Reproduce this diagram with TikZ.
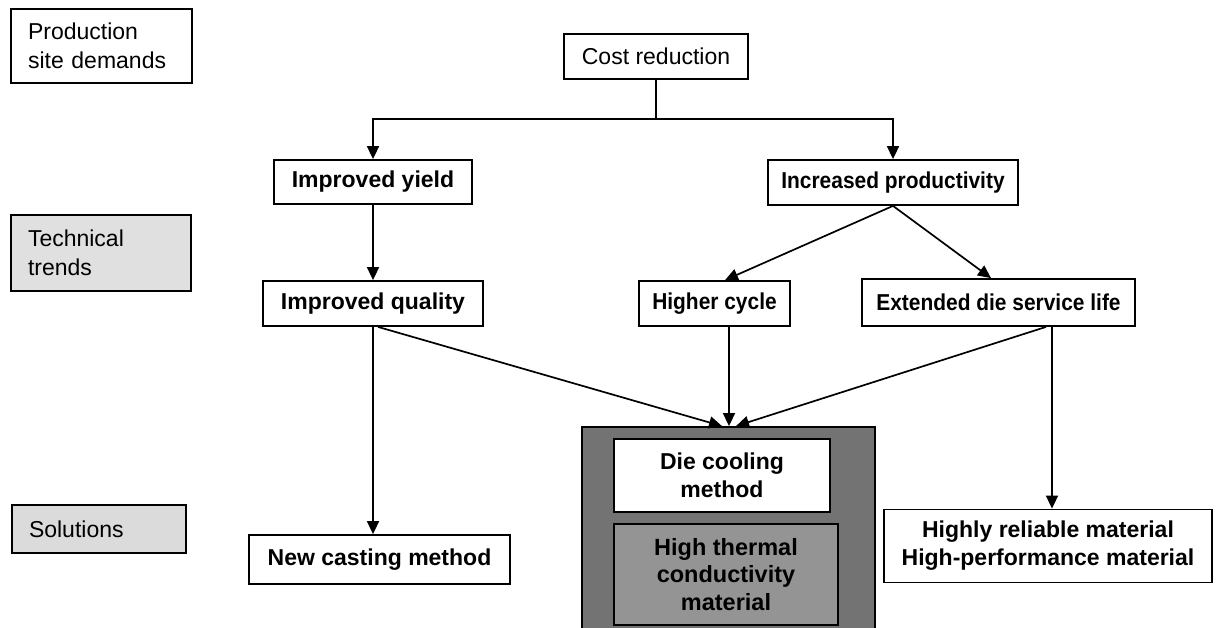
\documentclass[tikz,border=0pt]{standalone}
\usepackage{fontspec}
\setmainfont{Liberation Sans}
\newfontfamily\narrowsans[FakeStretch=0.91]{Liberation Sans}
\usetikzlibrary{arrows.meta}
\begin{document}
\begin{tikzpicture}[x=1pt,y=-1pt,
  bx/.style={draw, line width=1.8pt, inner sep=0pt, align=center, font=\fontsize{23}{28}\selectfont\bfseries, fill=white},
  nbx/.style={bx, font=\narrowsans\fontsize{23}{28}\selectfont\bfseries},
  lbl/.style={draw, line width=1.8pt, inner xsep=17pt, inner ysep=0pt, align=left, font=\fontsize{23}{29}\selectfont},
  arr/.style={line width=1.7pt, -{Triangle[length=13pt,width=12pt]}},
  ln/.style={line width=1.7pt}]
\useasboundingbox (0,0) rectangle (1216,628);
% left labels
\node[lbl, fill=white, minimum width=181pt, minimum height=74pt, text width=147pt] (prod) at (101.5,46) {Production\\site demands};
\node[lbl, fill=black!12, minimum width=180pt, minimum height=76pt, text width=146pt] (tech) at (101,253) {Technical\\trends};
\node[lbl, fill=black!14, minimum width=174pt, minimum height=48pt, text width=140pt] (sol) at (99,529) {Solutions};
% main nodes
\node[bx, font=\fontsize{23}{28}\selectfont, minimum width=184pt, minimum height=45pt] (cost) at (656,56.5) {Cost reduction};
\node[bx, minimum width=198pt, minimum height=44pt] (yield) at (373,182) {Improved yield};
\node[nbx, minimum width=250pt, minimum height=45pt] (prodv) at (893,182.5) {Increased productivity};
\node[bx, minimum width=220pt, minimum height=45pt] (quality) at (373,303.5) {Improved quality};
\node[nbx, minimum width=151pt, minimum height=45pt] (cycle) at (714.5,303.5) {Higher cycle};
\node[nbx, minimum width=273pt, minimum height=47pt] (ext) at (998.5,302.5) {Extended die service life};
\node[bx, minimum width=261pt, minimum height=49pt] (casting) at (379.5,559.5) {New casting method};
\node[bx, minimum width=328pt, minimum height=73pt] (highly) at (1048,546) {Highly reliable material\\High-performance material};
\node[draw, line width=1.8pt, fill=black!55, inner sep=0pt, minimum width=293pt, minimum height=213pt] (big) at (728.5,533.5) {};
\node[bx, minimum width=216pt, minimum height=73pt] (cool) at (722,475.5) {Die cooling\\method};
\node[bx, fill=black!42, font=\fontsize{23.5}{27.5}\selectfont\bfseries, minimum width=224pt, minimum height=101pt] (thermal) at (726,574.5) {High thermal\\conductivity\\material};
% connectors
\coordinate (split) at (cost.south |- 0,119);
\draw[ln] (cost.south) -- (split);
\draw[arr] (split) -| (yield.north);
\draw[arr] (split) -| (prodv.north);
\draw[arr] (yield.south) -- (quality.north);
\draw[arr] (prodv.south) -- ([xshift=10.5pt]cycle.north);
\draw[arr] (prodv.south) -- ([xshift=-7.5pt]ext.north);
\draw[arr] (quality.south) -- (quality.south |- casting.north);
\draw[arr] ([xshift=53.5pt]ext.south) -- ([xshift=53.5pt]ext.south |- highly.north);
\draw[arr] ([xshift=5pt]quality.south) -- ([xshift=-6.5pt]big.north);
\draw[arr] ([xshift=14.5pt]cycle.south) -- ([xshift=0.5pt]big.north);
\draw[arr] ([xshift=47.5pt]ext.south) -- ([xshift=7.5pt]big.north);
\end{tikzpicture}
\end{document}
